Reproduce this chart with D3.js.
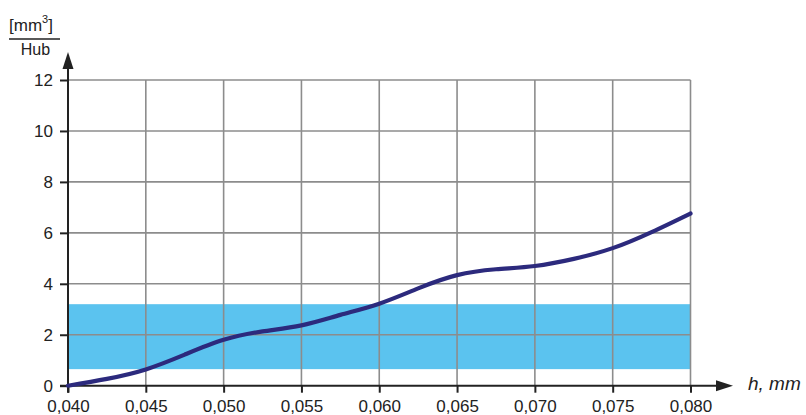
<!DOCTYPE html>
<html>
<head>
<meta charset="utf-8">
<script src="https://cdn.jsdelivr.net/npm/d3@7"></script>
<style>
  html, body { margin: 0; padding: 0; background: #fff; }
  svg { display: block; }
  text { font-family: "Liberation Sans", Arial, sans-serif; fill: #222; }
</style>
</head>
<body>
<svg id="chart" width="806" height="415"></svg>
<script>
// Removal volume per stroke as a function of feed h
const hValues = [0.0400, 0.0425, 0.0450, 0.0475, 0.0500, 0.0525, 0.0550, 0.0575, 0.0600,
                 0.0625, 0.0650, 0.0675, 0.0700, 0.0725, 0.0750, 0.0775, 0.0800];
const volumeValues = [0.00, 0.27, 0.64, 1.22, 1.80, 2.13, 2.37, 2.78, 3.22,
                      3.82, 4.34, 4.57, 4.70, 4.98, 5.40, 6.03, 6.76];
// Target band on the volume axis
const bandRange = [0.65, 3.2];
const xTicks = [0.040, 0.045, 0.050, 0.055, 0.060, 0.065, 0.070, 0.075, 0.080];
const yTicks = [0, 2, 4, 6, 8, 10, 12];

const svg = d3.select("#chart");
const plotLeft = 68, plotRight = 690.5, plotTop = 80, plotBottom = 385.7;

const x = d3.scaleLinear().domain([0.040, 0.080]).range([plotLeft, plotRight]);
const y = d3.scaleLinear().domain([0, 12]).range([plotBottom, plotTop]);

// band
svg.append("rect")
  .attr("x", x(0.040)).attr("width", x(0.080) - x(0.040))
  .attr("y", y(bandRange[1])).attr("height", y(bandRange[0]) - y(bandRange[1]))
  .attr("fill", "#5bc3ef");

// grid
const grid = svg.append("g").attr("stroke", "#8c8c8c").attr("stroke-width", 1.6);
grid.selectAll("line.v").data(xTicks.slice(1)).join("line")
  .attr("class", "v")
  .attr("x1", d => x(d)).attr("x2", d => x(d))
  .attr("y1", y(12)).attr("y2", y(0));
grid.selectAll("line.h").data(yTicks.slice(1)).join("line")
  .attr("class", "h")
  .attr("x1", x(0.040)).attr("x2", x(0.080))
  .attr("y1", d => y(d)).attr("y2", d => y(d));

// axes via d3 axis generators
const fmtX = d => d3.format(".3f")(d).replace(".", ",");
const xAxis = svg.append("g")
  .attr("transform", `translate(0,${plotBottom})`)
  .call(d3.axisBottom(x).tickValues(xTicks).tickFormat(fmtX).tickSize(7).tickPadding(7));
const yAxis = svg.append("g")
  .attr("transform", `translate(${plotLeft},0)`)
  .call(d3.axisLeft(y).tickValues(yTicks).tickFormat(d3.format("d")).tickSize(8).tickPadding(7));

[xAxis, yAxis].forEach(g => {
  g.select(".domain").remove();
  g.selectAll(".tick line").attr("stroke", "#222").attr("stroke-width", 2);
  g.selectAll(".tick text")
    .attr("fill", "#333")
    .style("font-family", "'Liberation Sans', Arial, sans-serif")
    .style("font-size", "17px");
});

// axis lines with arrowheads
const axisColor = "#222";
svg.append("line").attr("x1", plotLeft - 8).attr("x2", 718).attr("y1", plotBottom).attr("y2", plotBottom)
  .attr("stroke", axisColor).attr("stroke-width", 2);
svg.append("path").attr("d", `M733,${plotBottom} L716,${plotBottom - 5.5} L716,${plotBottom + 5.5} Z`)
  .attr("fill", axisColor);
svg.append("line").attr("x1", plotLeft).attr("x2", plotLeft).attr("y1", plotBottom + 7).attr("y2", 68)
  .attr("stroke", axisColor).attr("stroke-width", 2);
svg.append("path").attr("d", `M${plotLeft},52 L${plotLeft - 5.5},69 L${plotLeft + 5.5},69 Z`)
  .attr("fill", axisColor);

// curve
const line = d3.line()
  .x((d, i) => x(hValues[i]))
  .y(d => y(d))
  .curve(d3.curveNatural);
svg.append("path").datum(volumeValues)
  .attr("d", line)
  .attr("fill", "none")
  .attr("stroke", "#2c2a7d")
  .attr("stroke-width", 4.2)
  .attr("stroke-linecap", "round");

// axis titles
const yt = svg.append("text").attr("x", 9).attr("y", 31).style("font-size", "17px").attr("fill", "#333");
yt.append("tspan").text("[mm");
yt.append("tspan").attr("dy", -8).style("font-size", "11px").text("3");
yt.append("tspan").attr("dy", 8).text("]");
svg.append("line").attr("x1", 9).attr("x2", 60).attr("y1", 39).attr("y2", 39)
  .attr("stroke", "#222").attr("stroke-width", 1.6);
svg.append("text").attr("x", 35.5).attr("y", 54.5).attr("text-anchor", "middle")
  .style("font-size", "16px").attr("fill", "#333").text("Hub");

svg.append("text").attr("x", 748).attr("y", 390)
  .style("font-size", "19px").style("font-style", "italic").attr("fill", "#333").text("h, mm");
</script>
</body>
</html>
